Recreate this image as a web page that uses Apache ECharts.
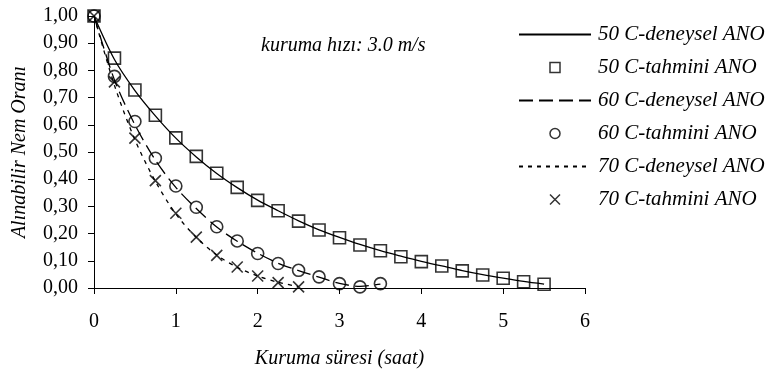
<!DOCTYPE html>
<html>
<head>
<meta charset="utf-8">
<script src="https://cdn.jsdelivr.net/npm/echarts@6/dist/echarts.min.js"></script>
<style>
  html, body { margin: 0; padding: 0; background: #fff; }
  #chart { width: 768px; height: 369px; }
</style>
</head>
<body>
<div id="chart"></div>
<script>
// Drying time (hours) for each temperature
const hours50 = [0, 0.25, 0.5, 0.75, 1, 1.25, 1.5, 1.75, 2, 2.25, 2.5, 2.75, 3, 3.25, 3.5, 3.75, 4, 4.25, 4.5, 4.75, 5, 5.25, 5.5];
const hours60 = [0, 0.25, 0.5, 0.75, 1, 1.25, 1.5, 1.75, 2, 2.25, 2.5, 2.75, 3, 3.25, 3.5];
const hours70 = [0, 0.25, 0.5, 0.75, 1, 1.25, 1.5, 1.75, 2, 2.25, 2.5];

// Moisture ratio – experimental (deneysel)
const exp50 = [1.00, 0.840, 0.726, 0.633, 0.551, 0.482, 0.421, 0.369, 0.323, 0.284, 0.247, 0.214, 0.186, 0.160, 0.137, 0.117, 0.098, 0.081, 0.064, 0.049, 0.036, 0.024, 0.014];
const exp60 = [1.00, 0.765, 0.600, 0.470, 0.370, 0.292, 0.224, 0.172, 0.128, 0.091, 0.064, 0.040, 0.017, 0.006, 0.014];
const exp70 = [1.00, 0.745, 0.545, 0.392, 0.272, 0.186, 0.121, 0.076, 0.044, 0.021, 0.005];

// Moisture ratio – ANN predicted (tahmini)
const pred50 = [1.00, 0.845, 0.728, 0.635, 0.552, 0.484, 0.422, 0.370, 0.322, 0.284, 0.246, 0.213, 0.185, 0.158, 0.137, 0.115, 0.097, 0.081, 0.063, 0.048, 0.036, 0.023, 0.014];
const pred60 = [1.00, 0.778, 0.612, 0.477, 0.375, 0.297, 0.225, 0.173, 0.127, 0.090, 0.065, 0.041, 0.016, 0.004, 0.016];
const pred70 = [1.00, 0.758, 0.551, 0.395, 0.275, 0.187, 0.120, 0.077, 0.044, 0.020, 0.004];

const seriesNames = [
  '50 C-deneysel ANO', '50 C-tahmini ANO',
  '60 C-deneysel ANO', '60 C-tahmini ANO',
  '70 C-deneysel ANO', '70 C-tahmini ANO'
];

const xTicks = [0, 1, 2, 3, 4, 5, 6];
const yLabelFmt = v => v.toFixed(2).replace('.', ',');
const annotation = 'kuruma hızı: 3.0 m/s';

const pairs = (xs, ys) => xs.map((x, i) => [x, ys[i]]);
const SERIF = 'Liberation Serif';
const SQUARE = 'path://M0,0L10,0L10,10L0,10Z';
const CROSS = 'path://M0,0L10,10M10,0L0,10';

function lineSeries(name, xs, ys, dash) {
  return {
    name, type: 'line', data: pairs(xs, ys),
    symbol: 'none', smooth: 0.3,
    lineStyle: { color: '#000', width: 1.3, type: dash },
    itemStyle: { color: '#000' },
    z: 2
  };
}
function markerSeries(name, xs, ys, symbol, size) {
  return {
    name, type: 'scatter', data: pairs(xs, ys),
    symbol, symbolSize: size,
    itemStyle: { color: 'rgba(0,0,0,0)', borderColor: '#000', borderWidth: 1.6 },
    z: 3
  };
}

const chart = echarts.init(document.getElementById('chart'), null, { renderer: 'canvas' });
chart.setOption({
  animation: false,
  backgroundColor: '#fff',
  grid: { left: 94, right: 183, top: 16, bottom: 81, containLabel: false, outerBoundsMode: 'none' },
  title: {
    text: annotation, left: 256, top: 31,
    textStyle: { fontFamily: SERIF, fontStyle: 'italic', fontWeight: 'normal', fontSize: 20, color: '#000' }
  },
  legend: {
    orient: 'vertical', left: 518, top: 24, padding: 0,
    itemWidth: 72, itemHeight: 10, itemGap: 12,
    symbolKeepAspect: true,
    textStyle: { fontFamily: SERIF, fontStyle: 'italic', fontSize: 21, color: '#000', padding: [0, 0, 0, 2] },
    data: [
      { name: seriesNames[0], itemStyle: { opacity: 0 } },
      { name: seriesNames[1], icon: SQUARE, itemStyle: { borderWidth: 1.5 } },
      { name: seriesNames[2], itemStyle: { opacity: 0 } },
      { name: seriesNames[3], itemStyle: { borderWidth: 1.5 } },
      { name: seriesNames[4], itemStyle: { opacity: 0 } },
      { name: seriesNames[5], itemStyle: { borderWidth: 1.5 } }
    ],
    selectedMode: false
  },
  xAxis: {
    type: 'value', min: xTicks[0], max: xTicks[xTicks.length - 1], interval: 1,
    name: 'Kuruma süresi (saat)', nameLocation: 'middle', nameGap: 61,
    nameTextStyle: { fontFamily: SERIF, fontStyle: 'italic', fontSize: 20, color: '#000' },
    axisLine: { lineStyle: { color: '#000', width: 1 } },
    axisTick: { show: true, length: 6, inside: false, lineStyle: { color: '#000' } },
    axisLabel: { fontFamily: SERIF, fontSize: 20, color: '#000', margin: 24 },
    splitLine: { show: false }
  },
  yAxis: {
    type: 'value', min: 0, max: 1, interval: 0.1,
    name: 'Alınabilir Nem Oranı', nameLocation: 'middle', nameGap: 64,
    nameTextStyle: { fontFamily: SERIF, fontStyle: 'italic', fontSize: 20, color: '#000' },
    axisLine: { show: true, lineStyle: { color: '#000', width: 1 } },
    axisTick: { show: true, length: 6, lineStyle: { color: '#000' } },
    axisLabel: { fontFamily: SERIF, fontSize: 20, color: '#000', margin: 16, formatter: yLabelFmt },
    splitLine: { show: false }
  },
  series: [
    lineSeries(seriesNames[0], hours50, exp50, 'solid'),
    markerSeries(seriesNames[1], hours50, pred50, 'rect', 12),
    lineSeries(seriesNames[2], hours60, exp60, [14, 6]),
    markerSeries(seriesNames[3], hours60, pred60, 'circle', 12),
    lineSeries(seriesNames[4], hours70, exp70, [4, 5]),
    markerSeries(seriesNames[5], hours70, pred70, CROSS, 11)
  ]
});
</script>
</body>
</html>
